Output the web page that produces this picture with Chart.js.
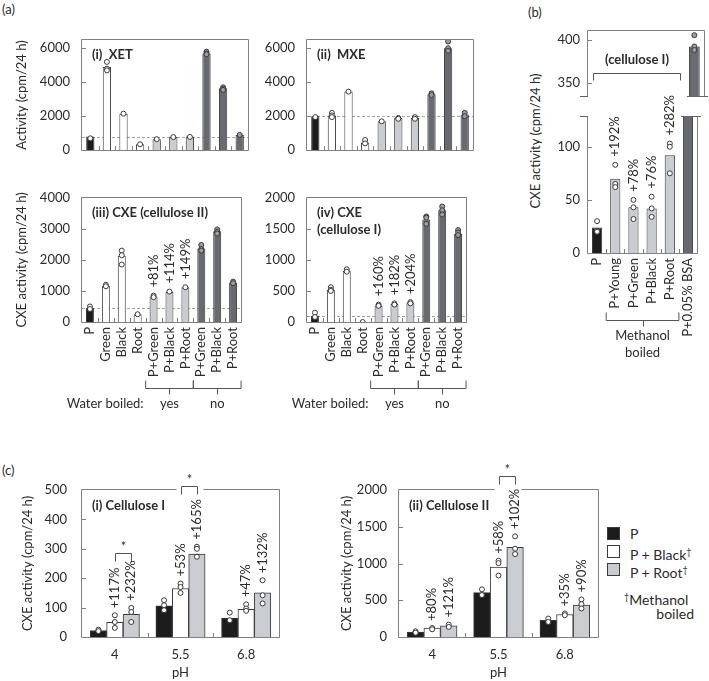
<!DOCTYPE html>
<html>
<head>
<meta charset="utf-8">
<title>XET, MXE and CXE activity</title>
<script src="https://cdn.jsdelivr.net/npm/chart.js@4.4.1/dist/chart.umd.min.js"></script>
<style>
  html, body { margin: 0; padding: 0; background: #fff; overflow: hidden; }
  body { position: relative; width: 709px; height: 681px; font-family: Lato, "Open Sans", sans-serif; color: #2b2b2b; }
  canvas { position: absolute; }
  .lbl { position: absolute; font-size: 13px; line-height: 14px; white-space: nowrap; }
  .leg { position: absolute; font-size: 14px; line-height: 14px; white-space: nowrap; }
  .sq { position: absolute; width: 11px; height: 11px; border: 1px solid #3a3a3a; }
  .vt { position: absolute; width: 200px; text-align: center; font-size: 13px; line-height: 16px; transform: rotate(-90deg); white-space: nowrap; }
  sup { font-size: 9px; vertical-align: 5px; }
</style>
</head>
<body>
<div class="lbl" style="left:2px;top:2px">(a)</div>
<div class="lbl" style="left:528px;top:5px">(b)</div>
<div class="lbl" style="left:2px;top:463px">(c)</div>
<div class="vt" style="left:435px;top:133px">CXE activity (cpm/24 h)</div>

<div class="sq" style="left:607px;top:527px;background:#1c1c1c"></div>
<div class="sq" style="left:607px;top:545px;background:#ffffff"></div>
<div class="sq" style="left:607px;top:563px;background:#c9ccd1"></div>
<div class="leg" style="left:630px;top:527px">P</div>
<div class="leg" style="left:630px;top:545px">P + Black<sup>†</sup></div>
<div class="leg" style="left:630px;top:563px">P + Root<sup>†</sup></div>
<div class="leg" style="left:624px;top:590px"><sup>†</sup>Methanol</div>
<div class="leg" style="right:15px;top:607px">boiled</div>

<script>
'use strict';

// ---------- data ----------
const aLabels = ['P', 'Green', 'Black', 'Root', 'P+Green', 'P+Black', 'P+Root', 'P+Green', 'P+Black', 'P+Root'];

const xetTicks = [0, 2000, 4000, 6000];
const xetBars = [800, 4900, 2150, 350, 650, 780, 800, 5700, 3650, 900];
const xetDots = [[700], [5200, 4800, 4700], [2150], [350], [650], [770], [780], [5800, 5700, 5650], [3700, 3600, 3550], [900]];

const mxeTicks = [0, 2000, 4000, 6000];
const mxeBars = [2000, 2050, 3450, 450, 1700, 1900, 1900, 3300, 6000, 2100];
const mxeDots = [[1950], [2200, 2050, 1950], [3450], [600, 400], [1700], [1900, 1850], [1950, 1850], [3350, 3250], [6400, 6000, 5850], [2200, 2000]];

const cxe2Ticks = [0, 1000, 2000, 3000, 4000];
const cxe2Bars = [450, 1170, 2130, 250, 820, 970, 1120, 2370, 2920, 1270];
const cxe2Dots = [[500, 420], [1200, 1150], [2300, 2150, 1850], [250], [850, 800], [980], [1120], [2480, 2350, 2300], [2980, 2900, 2850], [1300, 1250]];
const cxe2Pct = ['', '', '', '', '+81%', '+114%', '+149%', '', '', ''];

const cxe1Ticks = [0, 500, 1000, 1500, 2000];
const cxe1Bars = [100, 520, 820, 0, 260, 290, 310, 1650, 1800, 1420];
const cxe1Dots = [[150, 80], [560, 520, 500], [850, 810], [0], [280, 260], [300, 280], [320, 300], [1700, 1680, 1580], [1860, 1800, 1730], [1480, 1440, 1400]];
const cxe1Pct = ['', '', '', '', '+160%', '+182%', '+204%', '', '', ''];

const bLabels = ['P', 'P+Young', 'P+Green', 'P+Black', 'P+Root', 'P+0.05% BSA'];
const bTicksHigh = [350, 400];
const bTicksLow = [0, 50, 100];
const bBars = [24, 70, 43, 42, 92, 392];
const bDots = [[30, 21, 20], [83, 65, 62], [50, 43, 32], [53, 42, 34], [103, 100, 75], [405, 392, 388]];
const bPct = ['', '+192%', '+78%', '+76%', '+282%', ''];

const pH = ['4', '5.5', '6.8'];
const seriesNames = ['P', 'P + Black', 'P + Root'];
const c1Ticks = [0, 100, 200, 300, 400, 500];
const c1Series = [[22, 106, 64], [50, 165, 94], [77, 282, 150]];
const c1Dots = [
  [[25, 20], [125, 108, 91], [83, 57]],
  [[74, 51, 31], [182, 170, 150], [111, 97, 89]],
  [[99, 85, 51], [307, 300, 273], [193, 142, 114]]
];
const c1Pct = [['', '', ''], ['+117%', '+53%', '+47%'], ['+232%', '+165%', '+132%']];
const c1Sig = [[0, 285], [1, 513]];   // [pH group, bracket level]

const c2Ticks = [0, 500, 1000, 1500, 2000];
const c2Series = [[68, 603, 228], [123, 950, 306], [151, 1219, 434]];
const c2Dots = [
  [[78, 59], [648, 571], [251, 205]],
  [[123, 105], [1037, 1005, 836], [320, 297]],
  [[169, 137], [1370, 1201, 1128], [511, 447, 388]]
];
const c2Pct = [['', '', ''], ['+80%', '+58%', '+35%'], ['+121%', '+102%', '+90%']];
const c2Sig = [[1, 2190]];

// ---------- styles ----------
const INK = '#2b2b2b', EDGE = '#3a3a3a', FRAME = '#808080';
const BLACK = '#1c1c1c', WHITE = '#ffffff', LIGHT = '#c9ccd1', DARK = '#676a6f';
const aFill = [BLACK, WHITE, WHITE, WHITE, LIGHT, LIGHT, LIGHT, DARK, DARK, DARK];
const bFill = [BLACK, LIGHT, LIGHT, LIGHT, LIGHT, DARK];
const cFill = [BLACK, WHITE, LIGHT];
const FONT = 'Lato, "Open Sans", sans-serif';

Chart.defaults.font.family = FONT;
Chart.defaults.font.size = 13;
Chart.defaults.color = INK;

// ---------- helpers ----------
function place(box) {
  const c = document.createElement('canvas');
  c.width = box[2]; c.height = box[3];
  c.style.left = box[0] + 'px'; c.style.top = box[1] + 'px';
  document.body.appendChild(c);
  return c;
}

// box = canvas [left, top, width, height]; area = plot [left, top, right, bottom], page pixels
function layoutFor(box, area, noX) {
  return {
    padding: { left: 0, top: area[1] - box[1], right: box[0] + box[2] - area[2], bottom: noX ? box[1] + box[3] - area[3] : 0 },
    yWidth: area[0] - box[0],
    xHeight: box[1] + box[3] - area[3]
  };
}

const dotFill = f => (f === DARK ? '#9a9da2' : '#ffffff');
const points = (dots, shift) => dots.flatMap((vs, i) => vs.map(v => ({ x: i + (shift || 0), y: v })));

// replicate dots: a point-only line dataset on the hidden linear axis 'xd'
function dotSet(data, fill) {
  return {
    type: 'line', xAxisID: 'xd', data, showLine: false, order: 0,
    pointRadius: 2.5, pointBorderWidth: 1, pointBorderColor: EDGE, pointBackgroundColor: fill
  };
}

function vText(ctx, s, x, y) {
  ctx.save();
  ctx.translate(x, y);
  ctx.rotate(-Math.PI / 2);
  ctx.textAlign = 'left';
  ctx.textBaseline = 'middle';
  ctx.fillText(s, 0, 0);
  ctx.restore();
}

function frame(ctx, a, sides, gap) {
  const L = Math.round(a.left) - 0.5, R = Math.round(a.right) + 0.5;
  const T = Math.round(a.top) - 0.5, B = Math.round(a.bottom) + 0.5;
  ctx.strokeStyle = FRAME; ctx.lineWidth = 1; ctx.setLineDash([]);
  ctx.beginPath();
  if (sides.includes('l')) { ctx.moveTo(L, T); ctx.lineTo(L, B); }
  if (sides.includes('r')) { ctx.moveTo(R, T); ctx.lineTo(R, B); }
  if (sides.includes('b')) { ctx.moveTo(L, B); ctx.lineTo(R, B); }
  if (sides.includes('t')) {
    if (gap) { ctx.moveTo(L, T); ctx.lineTo(gap[0], T); ctx.moveTo(gap[1], T); ctx.lineTo(R, T); }
    else { ctx.moveTo(L, T); ctx.lineTo(R, T); }
  }
  ctx.stroke();
}

function innerTicks(ctx, a, x, y) {
  ctx.strokeStyle = FRAME; ctx.lineWidth = 1;
  ctx.beginPath();
  y.ticks.forEach(t => {
    const py = Math.round(y.getPixelForValue(t.value)) + 0.5;
    if (py > a.top + 2 && py < a.bottom - 2) { ctx.moveTo(a.left, py); ctx.lineTo(a.left + 4, py); }
  });
  const n = x.getLabels().length;
  for (let i = 1; i < n; i++) {
    const px = Math.round(x.getPixelForValue(i - 0.5)) + 0.5;
    ctx.moveTo(px, a.bottom); ctx.lineTo(px, a.bottom - 4);
  }
  ctx.stroke();
}

// horizontal line with end legs pointing up and a short middle tick pointing down
function groupBracket(ctx, x1, x2, y) {
  ctx.strokeStyle = '#555'; ctx.lineWidth = 1;
  ctx.beginPath();
  ctx.moveTo(x1, y - 8); ctx.lineTo(x1, y); ctx.lineTo(x2, y); ctx.lineTo(x2, y - 8);
  const m = Math.round((x1 + x2) / 2) + 0.5;
  ctx.moveTo(m, y); ctx.lineTo(m, y + 6);
  ctx.stroke();
}

function scalesFor(lay, n, yMin, yMax, tickList, yTitle, xTicks, yPad) {
  return {
    x: {
      display: xTicks !== null,
      grid: { display: false, drawTicks: false }, border: { display: false },
      ticks: Object.assign({ autoSkip: false, padding: 5 }, xTicks || {}),
      afterFit: s => { s.height = lay.xHeight; }
    },
    xd: {
      type: 'linear', display: false, offset: false, min: -0.5, max: n - 0.5,
      afterBuildTicks: s => { s.ticks = []; }
    },
    y: {
      min: yMin, max: yMax,
      grid: { display: false, drawTicks: false }, border: { display: false },
      ticks: { padding: yPad, callback: v => String(v) },
      afterBuildTicks: s => { s.ticks = tickList.map(v => ({ value: v })); },
      title: { display: !!yTitle, text: yTitle || '', padding: 0 },
      afterFit: s => { s.width = lay.yWidth; }
    }
  };
}

// ---------- panel (a) ----------
function panelA(box, area, bars, dots, opt) {
  const lay = layoutFor(box, area);
  const rotated = { display: opt.names, minRotation: 90, maxRotation: 90, padding: 5 };
  new Chart(place(box), {
    type: 'bar',
    data: {
      labels: aLabels,
      datasets: [
        { data: bars, backgroundColor: aFill, borderColor: EDGE, borderWidth: 1, grouped: false,
          barPercentage: 0.5, categoryPercentage: 1, order: 1 },
        dotSet(points(dots), c => (c.raw ? dotFill(aFill[Math.round(c.raw.x)]) : '#fff'))
      ]
    },
    options: {
      responsive: false, animation: false,
      layout: { padding: lay.padding },
      plugins: { legend: { display: false }, tooltip: { enabled: false } },
      scales: scalesFor(lay, aLabels.length, 0, opt.max, opt.ticks, opt.yTitle, rotated, 12)
    },
    plugins: [{
      id: 'decoA',
      beforeDatasetsDraw(chart) {
        const { ctx, chartArea: a, scales: { y } } = chart;
        const py = Math.round(y.getPixelForValue(bars[0])) + 0.5;
        ctx.save();
        ctx.strokeStyle = '#8c8c8c'; ctx.lineWidth = 0.8; ctx.setLineDash([3, 2]);
        ctx.beginPath(); ctx.moveTo(a.left, py); ctx.lineTo(a.right, py); ctx.stroke();
        ctx.restore();
      },
      afterDatasetsDraw(chart) {
        const { ctx, chartArea: a, scales: { x, y } } = chart;
        ctx.save();
        frame(ctx, a, 'lrtb');
        innerTicks(ctx, a, x, y);
        ctx.fillStyle = INK;
        ctx.font = 'bold 13px ' + FONT;
        ctx.textAlign = 'left'; ctx.textBaseline = 'middle';
        opt.title.forEach((t, k) => ctx.fillText(t, a.left + 10, a.top + 15 + k * 17));
        ctx.font = '13px ' + FONT;
        (opt.pct || []).forEach((s, i) => {
          if (!s) return;
          const top = Math.max(bars[i], ...dots[i]);
          vText(ctx, s, x.getPixelForValue(i), y.getPixelForValue(top) - 8);
        });
        if (opt.water) {
          const yb = Math.round(a.bottom + 66) + 0.5;
          const e4 = x.getPixelForValue(3.5), e7 = x.getPixelForValue(6.5), e10 = x.getPixelForValue(9.5);
          groupBracket(ctx, e4, e7, yb);
          groupBracket(ctx, e7, e10, yb);
          ctx.fillStyle = INK; ctx.textBaseline = 'middle';
          ctx.textAlign = 'center';
          ctx.fillText('yes', (e4 + e7) / 2, yb + 15);
          ctx.fillText('no', (e7 + e10) / 2, yb + 15);
          ctx.textAlign = 'right';
          ctx.fillText('Water boiled:', e4 - 2, yb + 15);
        }
        ctx.restore();
      }
    }]
  });
}

panelA([14, 20, 240, 150], [82, 29, 248, 163], xetBars, xetDots,
  { max: 6500, ticks: xetTicks, yTitle: 'Activity (cpm/24 h)', names: false, title: ['(i)  XET'] });
panelA([262, 20, 217, 150], [307, 29, 473, 163], mxeBars, mxeDots,
  { max: 6500, ticks: mxeTicks, names: false, title: ['(ii)  MXE'] });
panelA([14, 178, 240, 232], [82, 187, 248, 322], cxe2Bars, cxe2Dots,
  { max: 4000, ticks: cxe2Ticks, yTitle: 'CXE activity (cpm/24 h)', names: true, pct: cxe2Pct, water: true,
    title: ['(iii) CXE (cellulose II)'] });
panelA([255, 178, 224, 232], [307, 187, 473, 322], cxe1Bars, cxe1Dots,
  { max: 2000, ticks: cxe1Ticks, names: true, pct: cxe1Pct, water: true,
    title: ['(iv) CXE', '(cellulose I)'] });

// ---------- panel (b): broken y axis, two stacked charts ----------
function panelB(box, area, yMin, yMax, tickList, upper) {
  const lay = layoutFor(box, area, upper);
  const xTicks = upper ? null : { minRotation: 90, maxRotation: 90, padding: 5 };
  new Chart(place(box), {
    type: 'bar',
    data: {
      labels: bLabels,
      datasets: [
        { data: bBars, backgroundColor: bFill, borderColor: EDGE, borderWidth: 1, grouped: false,
          barPercentage: 0.56, categoryPercentage: 1, order: 1, clip: 0 },
        dotSet(points(bDots), c => (c.raw ? dotFill(bFill[Math.round(c.raw.x)]) : '#fff'))
      ]
    },
    options: {
      responsive: false, animation: false,
      layout: { padding: lay.padding },
      plugins: { legend: { display: false }, tooltip: { enabled: false } },
      scales: scalesFor(lay, bLabels.length, yMin, yMax, tickList, null, xTicks, 8)
    },
    plugins: [{
      id: 'decoB',
      afterDatasetsDraw(chart) {
        const { ctx, chartArea: a, scales: { x, y } } = chart;
        const bsa = chart.getDatasetMeta(0).data[5];
        ctx.save();
        frame(ctx, a, upper ? 'lrt' : 'lrb');
        if (upper) {
          ctx.beginPath();
          y.ticks.forEach(t => {
            const py = Math.round(y.getPixelForValue(t.value)) + 0.5;
            ctx.moveTo(a.left, py); ctx.lineTo(a.left + 4, py);
          });
          ctx.stroke();
        } else {
          innerTicks(ctx, a, x, y);
        }
        // axis break marks
        const yb = upper ? Math.round(a.bottom) + 0.5 : Math.round(a.top) - 0.5;
        ctx.strokeStyle = '#666';
        ctx.beginPath();
        ctx.moveTo(a.left - 8, yb); ctx.lineTo(a.left, yb);
        ctx.moveTo(bsa.x - bsa.width / 2 - 2, yb); ctx.lineTo(a.right + 4, yb);
        ctx.stroke();
        ctx.fillStyle = INK;
        if (upper) {
          const yl = Math.round(y.getPixelForValue(362)) + 0.5;
          const x1 = Math.round(x.getPixelForValue(0)) - 4.5, x2 = Math.round(x.getPixelForValue(4)) + 5.5;
          ctx.strokeStyle = '#555';
          ctx.beginPath();
          ctx.moveTo(x1, yl + 7); ctx.lineTo(x1, yl); ctx.lineTo(x2, yl); ctx.lineTo(x2, yl + 7);
          ctx.stroke();
          ctx.font = 'bold 13px ' + FONT;
          ctx.textAlign = 'center'; ctx.textBaseline = 'middle';
          ctx.fillText('(cellulose I)', (x1 + x2) / 2, yl - 14);
        } else {
          ctx.font = '13px ' + FONT;
          bPct.forEach((s, i) => {
            if (!s) return;
            const top = Math.max(bBars[i], ...bDots[i]);
            vText(ctx, s, x.getPixelForValue(i), y.getPixelForValue(top) - 8);
          });
          const yb2 = Math.round(a.bottom + 67) + 0.5;
          const e1 = x.getPixelForValue(0.5), e5 = x.getPixelForValue(4.5);
          groupBracket(ctx, e1, e5, yb2);
          ctx.fillStyle = INK; ctx.textAlign = 'center'; ctx.textBaseline = 'middle';
          ctx.fillText('Methanol', (e1 + e5) / 2, yb2 + 15);
          ctx.fillText('boiled', (e1 + e5) / 2, yb2 + 32);
        }
        ctx.restore();
      }
    }]
  });
}

panelB([540, 15, 169, 97], [588, 29, 705, 110], 335, 410, bTicksHigh, true);
panelB([540, 20, 169, 352], [588, 117, 705, 253], 0, 128, bTicksLow, false);

// ---------- panel (c): grouped bars vs pH ----------
// bars sit on the hidden linear axis 'xd' at group index +/- a quarter, so the three series share each pH slot
function panelC(box, area, series, dots, pct, sig, opt) {
  const lay = layoutFor(box, area);
  const shift = j => (j - 1) * 0.25;
  const datasets = series.map((vals, j) => ({
    label: seriesNames[j], xAxisID: 'xd', data: points(vals.map(v => [v]), shift(j)),
    backgroundColor: cFill[j], borderColor: EDGE, borderWidth: 1, grouped: false,
    barPercentage: 1, categoryPercentage: 1, order: 1
  }));
  dots.forEach((perGroup, j) => datasets.push(dotSet(points(perGroup, shift(j)), '#ffffff')));
  const scales = scalesFor(lay, pH.length, 0, opt.max, opt.ticks, 'CXE activity (cpm/24 h)', { padding: 10 }, opt.yPad);
  scales.x.title = { display: true, text: 'pH', padding: 0 };
  scales.x.min = 0; scales.x.max = pH.length - 1;
  new Chart(place(box), {
    type: 'bar',
    data: { labels: pH, datasets },
    options: {
      responsive: false, animation: false,
      layout: { padding: lay.padding },
      plugins: { legend: { display: false }, tooltip: { enabled: false } },
      scales
    },
    plugins: [{
      id: 'decoC',
      afterDatasetsDraw(chart) {
        const { ctx, chartArea: a, scales: { x, y } } = chart;
        ctx.save();
        let gap = null;
        const marks = sig.map(([g, v]) => {
          const x1 = Math.round(chart.getDatasetMeta(1).data[g].x) + 0.5;
          const x2 = Math.round(chart.getDatasetMeta(2).data[g].x) + 0.5;
          const yt = Math.round(y.getPixelForValue(v)) + 0.5;
          if (yt < a.top + 10) gap = [x1 - 5, x2 + 6];
          return [x1, x2, yt];
        });
        frame(ctx, a, 'lrtb', gap);
        innerTicks(ctx, a, x, y);
        ctx.strokeStyle = '#555';
        ctx.beginPath();
        marks.forEach(([x1, x2, yt]) => {
          ctx.moveTo(x1, yt + 8); ctx.lineTo(x1, yt); ctx.lineTo(x2, yt); ctx.lineTo(x2, yt + 8);
        });
        ctx.stroke();
        ctx.fillStyle = INK;
        ctx.font = '13px ' + FONT;
        ctx.textAlign = 'center'; ctx.textBaseline = 'alphabetic';
        marks.forEach(([x1, x2, yt]) => ctx.fillText('*', (x1 + x2) / 2, yt - 3));
        pct.forEach((row, j) => row.forEach((s, g) => {
          if (!s) return;
          const top = Math.max(series[j][g], ...dots[j][g]);
          vText(ctx, s, chart.getDatasetMeta(j).data[g].x, y.getPixelForValue(top) - 7);
        }));
        ctx.font = 'bold 13px ' + FONT;
        ctx.textAlign = 'left'; ctx.textBaseline = 'middle';
        ctx.fillText(opt.title, a.left + 10, a.top + 16);
        ctx.restore();
      }
    }]
  });
}

panelC([20, 455, 266, 226], [82, 490, 279, 637], c1Series, c1Dots, c1Pct, c1Sig,
  { max: 500, ticks: c1Ticks, yPad: 15, title: '(i) Cellulose I' });
panelC([339, 455, 266, 226], [399, 490, 598, 637], c2Series, c2Dots, c2Pct, c2Sig,
  { max: 2000, ticks: c2Ticks, yPad: 12, title: '(ii) Cellulose II' });
</script>
</body>
</html>
